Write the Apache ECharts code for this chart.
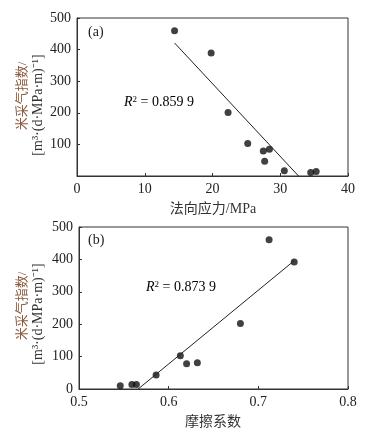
<!DOCTYPE html>
<html><head><meta charset="utf-8">
<script src="https://cdn.jsdelivr.net/npm/echarts@6/dist/echarts.min.js"></script>
<style>html,body{margin:0;padding:0;background:#fff}#c{width:371px;height:436px}</style>
</head><body><div id="c"></div>
<script>
// Panel (a): normal stress vs gas index
const stressX = [14.4, 19.8, 22.3, 25.2, 27.5, 27.7, 28.4, 30.6, 34.5, 35.3];
const stressY = [460, 389, 201, 103, 79, 47, 85, 17, 11, 14];
const fitA = [[14.4, 421], [32.7, 0]];
const r2A = '0.859 9';
// Panel (b): friction coefficient vs gas index
const fricX = [0.546, 0.559, 0.564, 0.586, 0.613, 0.620, 0.632, 0.680, 0.712, 0.740];
const fricY = [10, 14, 14, 43, 103, 78, 81, 202, 461, 392];
const fitB = [[0.566, 0], [0.740, 396]];
const r2B = '0.873 9';
const yTicksA = [0, 100, 200, 300, 400, 500];
const labelA = '(a)', labelB = '(b)';
const xTitleA = '法向应力/MPa', xTitleB = '摩擦系数';
const yTitle1 = '米采气指数/', yTitle2 = '[m³·(d·MPa·m)⁻¹]';

const serif = '"Liberation Serif", "Noto Sans CJK SC", serif';
const axisCol = '#333';
function toPairs(xs, ys){ return xs.map((x,i)=>[x, ys[i]]); }

const chart = echarts.init(document.getElementById('c'));
const axisBase = {
  axisLine:{show:true, lineStyle:{color:axisCol, width:1}},
  axisTick:{show:true, inside:true, length:3, lineStyle:{color:axisCol}},
  splitLine:{show:false},
  axisLabel:{color:'#222', fontFamily:serif, fontSize:14, margin:6}
};
const rich = {
  i:{fontFamily:serif, fontStyle:'italic', fontSize:14, color:'#222'},
  s:{fontFamily:serif, fontSize:9, verticalAlign:'top', color:'#222', padding:[0,0,6,0]},
  n:{fontFamily:serif, fontSize:14, color:'#222'}
};
chart.setOption({
  animation:false,
  grid:[
    {left:77, top:18, right:23, height:158, show:true, borderColor:axisCol, borderWidth:1},
    {left:79, top:227, right:23, height:162, show:true, borderColor:axisCol, borderWidth:1}
  ],
  xAxis:[
    Object.assign({}, axisBase, {gridIndex:0, type:'value', min:0, max:40, interval:10}),
    Object.assign({}, axisBase, {gridIndex:1, type:'value', min:0.5, max:0.8, interval:0.1,
      axisLabel:Object.assign({}, axisBase.axisLabel, {formatter:v=>v.toFixed(1)})})
  ],
  yAxis:[
    Object.assign({}, axisBase, {gridIndex:0, type:'value', min:yTicksA[0], max:yTicksA[yTicksA.length-1], interval:100,
      axisLabel:Object.assign({}, axisBase.axisLabel, {formatter:v=> v===0 ? '' : String(v)})}),
    Object.assign({}, axisBase, {gridIndex:1, type:'value', min:0, max:500, interval:100})
  ],
  series:[
    {type:'scatter', xAxisIndex:0, yAxisIndex:0, data:toPairs(stressX, stressY), symbolSize:7, itemStyle:{color:'#111'}},
    {type:'line', xAxisIndex:0, yAxisIndex:0, data:fitA, symbol:'none', lineStyle:{color:'#222', width:1}},
    {type:'scatter', xAxisIndex:1, yAxisIndex:1, data:toPairs(fricX, fricY), symbolSize:7, itemStyle:{color:'#111'}},
    {type:'line', xAxisIndex:1, yAxisIndex:1, data:fitB, symbol:'none', lineStyle:{color:'#222', width:1}}
  ],
  graphic:[
    {type:'text', left:88, top:25, style:{text:labelA, font:'14px '+serif, fill:'#222'}},
    {type:'text', left:88, top:233, style:{text:labelB, font:'14px '+serif, fill:'#222'}},
    {type:'text', left:124, top:95, style:{text:'{i|R}{s|2}{n| = '+r2A+'}', rich:rich}},
    {type:'text', left:146, top:280, style:{text:'{i|R}{s|2}{n| = '+r2B+'}', rich:rich}},
    {type:'text', x:213, y:209, style:{text:xTitleA, font:'14px '+serif, fill:'#333', align:'center', verticalAlign:'middle'}},
    {type:'text', x:213, y:422, style:{text:xTitleB, font:'14px '+serif, fill:'#333', align:'center', verticalAlign:'middle'}},
    {type:'text', x:23, y:96, rotation:Math.PI/2, style:{text:yTitle1, font:'13px '+serif, fill:'#8a5a3c', align:'center', verticalAlign:'middle'}},
    {type:'text', x:38, y:105, rotation:Math.PI/2, style:{text:yTitle2, font:'14px '+serif, fill:'#333', align:'center', verticalAlign:'middle'}},
    {type:'text', x:23, y:306, rotation:Math.PI/2, style:{text:yTitle1, font:'13px '+serif, fill:'#8a5a3c', align:'center', verticalAlign:'middle'}},
    {type:'text', x:38, y:314, rotation:Math.PI/2, style:{text:yTitle2, font:'14px '+serif, fill:'#333', align:'center', verticalAlign:'middle'}}
  ]
});
</script></body></html>
